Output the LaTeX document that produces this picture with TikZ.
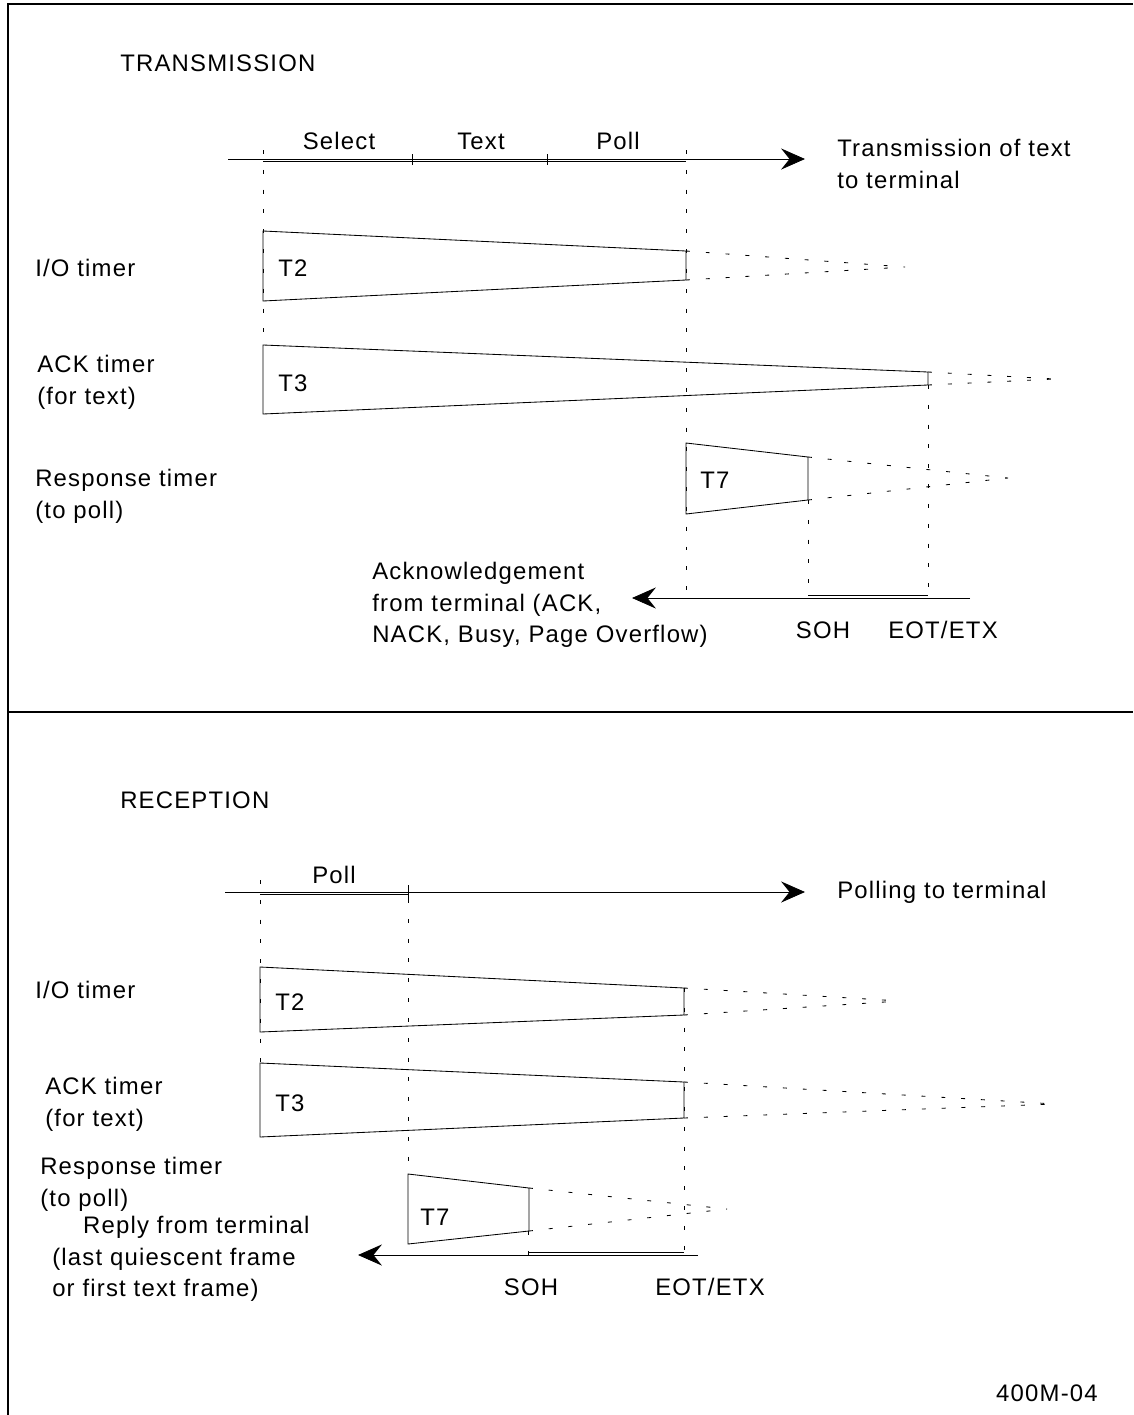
\documentclass[tikz,border=0pt]{standalone}
\usepackage{fontspec}
\newfontfamily\diafont{Liberation Sans}[LetterSpace=5]
\usetikzlibrary{arrows.meta,positioning}

\begin{document}
\begin{tikzpicture}[x=0.025cm,y=-0.025cm,
  every node/.style={font=\diafont\fontsize{17}{22.5}\selectfont, inner sep=0pt},
  label/.style={anchor=west, align=left},
  frameline/.style={line width=1pt},
  thin/.style={line width=0.6pt},
  timerbox/.style={line width=0.6pt},
  guide/.style={line width=0.6pt, dash pattern=on 2.8pt off 11.3pt},
  axis/.style={line width=0.6pt, -{Stealth[length=17pt,width=15pt,inset=6pt]}}
]
\useasboundingbox (0,0) rectangle (1133,1415);
\draw[frameline] (8,1415) -- (8,4) -- (1133,4);
\draw[frameline] (8,712) -- (1133,712);

% transmission
\node[label] (txtitle) at (120,63) {TRANSMISSION};
\coordinate (txa) at (228,159);
\coordinate (txb) at (805,159);
\draw[axis] (txa) -- (txb);
\draw[thin] (263,161.5) -- (686,161.5);
\draw[thin] (412,154) -- (412,165) (547,154) -- (547,165);
\node (select) at (339,141) {Select};
\node (text) at (481,141) {Text};
\node (poll) at (618,141) {Poll};
\node[label] (txgoal) at (837,164) {Transmission of text\\to terminal};

\draw[guide] (263,150) -- (263,345);
\draw[guide] (686,150) -- (686,598);
\draw[guide] (928,385) -- (928,598);
\draw[guide] (808,500) -- (808,598);

\node[label] (txio) at (35,268) {I/O timer};
\draw[timerbox] (263,231) -- (686,251) -- (686,280) -- (263,301) -- cycle;
\node[label] (txt2) at (278,268) {T2};
\draw[guide] (686,251) -- (905,267) (686,280) -- (905,267);

\node[label] (txack) at (37,382) {ACK timer\\(for text)};
\draw[timerbox] (263,345) -- (928,372) -- (928,385) -- (263,414) -- cycle;
\node[label] (txt3) at (278,383) {T3};
\draw[guide] (928,372) -- (1055,379) (928,385) -- (1055,379);

\node[label] (txresp) at (35,496) {Response timer\\(to poll)};
\draw[timerbox] (686,443) -- (808,457) -- (808,500) -- (686,514) -- cycle;
\node[label] (txt7) at (700,480) {T7};
\draw[guide] (808,457) -- (1008,478) (808,500) -- (1008,478);

\coordinate (txra) at (970,598);
\coordinate (txrb) at (632,598);
\draw[axis] (txra) -- (txrb);
\draw[thin] (808,595.5) -- (928,595.5);
\node (txsoh) at (823,630) {SOH};
\node (txeot) at (943,630) {EOT/ETX};
\node[label] (txreply) at (372,605) {Acknowledgement\\from terminal (ACK,\\NACK, Busy, Page Overflow)};

% reception
\node[label] (rxtitle) at (120,800) {RECEPTION};
\coordinate (rxa) at (225,892);
\coordinate (rxb) at (805,892);
\draw[axis] (rxa) -- (rxb);
\draw[thin] (260,894.5) -- (408,894.5);
\draw[thin] (408,885) -- (408,899);
\node (rxpoll) at (334,875) {Poll};
\node[label] (rxgoal) at (837,892) {Polling to terminal};

\draw[guide] (260,880) -- (260,1063);
\draw[guide] (408,899) -- (408,1174);
\draw[guide] (684,988) -- (684,1255);
\draw[guide] (528,1231) -- (528,1255);

\node[label] (rxio) at (35,990) {I/O timer};
\draw[timerbox] (260,967) -- (684,988) -- (684,1015) -- (260,1032) -- cycle;
\node[label] (rxt2) at (275,1002) {T2};
\draw[guide] (684,988) -- (900,1001) (684,1015) -- (900,1001);

\node[label] (rxack) at (45,1104) {ACK timer\\(for text)};
\draw[timerbox] (260,1063) -- (684,1082) -- (684,1118) -- (260,1137) -- cycle;
\node[label] (rxt3) at (275,1103) {T3};
\draw[guide] (684,1082) -- (1055,1104) (684,1118) -- (1055,1104);

\node[label] (rxresp) at (40,1184) {Response timer\\(to poll)};
\draw[timerbox] (408,1174) -- (529,1188) -- (529,1231) -- (408,1244) -- cycle;
\node[label] (rxt7) at (420,1217) {T7};
\draw[guide] (529,1188) -- (727,1209) (529,1231) -- (727,1209);

\coordinate (rxra) at (698,1255);
\coordinate (rxrb) at (358,1255);
\draw[axis] (rxra) -- (rxrb);
\draw[thin] (528,1252.5) -- (684,1252.5);
\node (rxsoh) at (531,1287) {SOH};
\node (rxeot) at (710,1287) {EOT/ETX};
\node[label] (rxreply) at (52,1259) {\hspace*{22pt}Reply from terminal\\(last quiescent frame\\or first text frame)};

\node[anchor=east] (code) at (1098,1393) {400M-04};
\end{tikzpicture}
\end{document}
